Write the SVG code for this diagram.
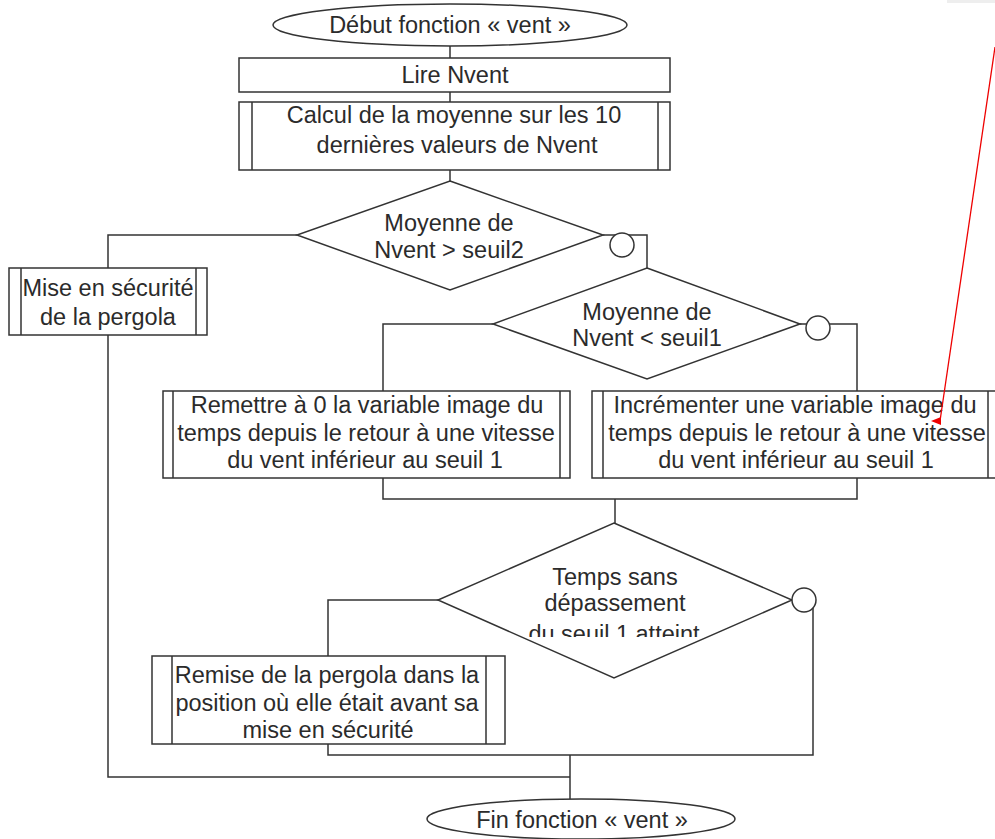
<svg xmlns="http://www.w3.org/2000/svg" width="995" height="839" viewBox="0 0 995 839">
<style>
.s{fill:#fff;stroke:#333;stroke-width:1.5}
.l{fill:none;stroke:#333;stroke-width:1.5}
.t{font-family:"Liberation Sans",Arial,sans-serif;font-size:23.5px;fill:#2b2b2b;text-anchor:middle}
</style>
<defs>
<clipPath id="clipD3"><rect x="430" y="520" width="380" height="117"/></clipPath>
</defs>
<rect x="0" y="0" width="995" height="839" fill="#fff"/>
<rect x="947" y="0" width="48" height="3" fill="#eeeeee"/>
<g id="connectors">
<path class="l" d="M450,46 V58"/>
<path class="l" d="M450,92 V102"/>
<path class="l" d="M450,170 V181"/>
<path class="l" d="M297,235 H108 V268"/>
<path class="l" d="M108,335 V777 H570"/>
<path class="l" d="M603,235 H647 V268"/>
<path class="l" d="M493,324 H383 V391"/>
<path class="l" d="M383,478 V499 H857 V478"/>
<path class="l" d="M800,324 H857 V391"/>
<path class="l" d="M615,499 V523"/>
<path class="l" d="M438,600 H328 V656"/>
<path class="l" d="M328,744 V755 H813 V600 H792"/>
<path class="l" d="M570,755 V799"/>
</g>
<g id="start">
<ellipse class="s" cx="450" cy="25" rx="177" ry="21"/>
<text class="t" x="450" y="33">Début fonction « vent »</text>
</g>
<g id="lire">
<rect class="s" x="239" y="58" width="431" height="34"/>
<text class="t" x="455" y="83">Lire Nvent</text>
</g>
<g id="calcul">
<rect class="s" x="239" y="102" width="431" height="68"/>
<path class="l" d="M252,102 V170 M658,102 V170"/>
<text class="t" x="454" y="123">Calcul de la moyenne sur les 10</text>
<text class="t" x="457" y="153">dernières valeurs de Nvent</text>
</g>
<g id="decision1">
<polygon class="s" points="450,181 603,235 450,290 297,235"/>
<text class="t" x="449" y="231">Moyenne de</text>
<text class="t" x="449" y="258">Nvent &gt; seuil2</text>
<circle class="s" cx="622" cy="245" r="12"/>
</g>
<g id="securite">
<rect class="s" x="9" y="268" width="198" height="67"/>
<path class="l" d="M21,268 V335 M196,268 V335"/>
<text class="t" x="108" y="296">Mise en sécurité</text>
<text class="t" x="108" y="325">de la pergola</text>
</g>
<g id="decision2">
<polygon class="s" points="647,268 800,324 647,379 493,324"/>
<text class="t" x="647" y="320">Moyenne de</text>
<text class="t" x="647" y="346">Nvent &lt; seuil1</text>
<circle class="s" cx="818" cy="328" r="12"/>
</g>
<g id="remettre">
<rect class="s" x="163" y="391" width="407" height="87"/>
<path class="l" d="M173,391 V478 M560,391 V478"/>
<text class="t" x="367" y="413">Remettre à 0 la variable image du</text>
<text class="t" x="366" y="441">temps depuis le retour à une vitesse</text>
<text class="t" x="365" y="468">du vent inférieur au seuil 1</text>
</g>
<g id="incrementer">
<rect class="s" x="592" y="391" width="410" height="87"/>
<path class="l" d="M603,391 V478 M988,391 V478"/>
<text class="t" x="795" y="413">Incrémenter une variable image du</text>
<text class="t" x="797" y="441">temps depuis le retour à une vitesse</text>
<text class="t" x="796" y="468">du vent inférieur au seuil 1</text>
</g>
<g id="decision3">
<polygon class="s" points="614,523 792,600 614,678 438,600"/>
<text class="t" x="615" y="585">Temps sans</text>
<text class="t" x="615" y="611">dépassement</text>
<text class="t" x="614" y="642" clip-path="url(#clipD3)">du seuil 1 atteint</text>
<circle class="s" cx="804" cy="600" r="12"/>
</g>
<g id="remise">
<rect class="s" x="152" y="656" width="353" height="88"/>
<path class="l" d="M172,656 V744 M486,656 V744"/>
<text class="t" x="327" y="683">Remise de la pergola dans la</text>
<text class="t" x="327" y="711">position où elle était avant sa</text>
<text class="t" x="328" y="738">mise en sécurité</text>
</g>
<g id="end">
<ellipse class="s" cx="581" cy="819" rx="154" ry="20"/>
<text class="t" x="582" y="828">Fin fonction « vent »</text>
</g>
<g id="annotation">
<path d="M995,47 L940,421" fill="none" stroke="#e00" stroke-width="1.3"/>
<polygon points="931,421 941,417 941,425" fill="#e00"/>
</g>
</svg>
